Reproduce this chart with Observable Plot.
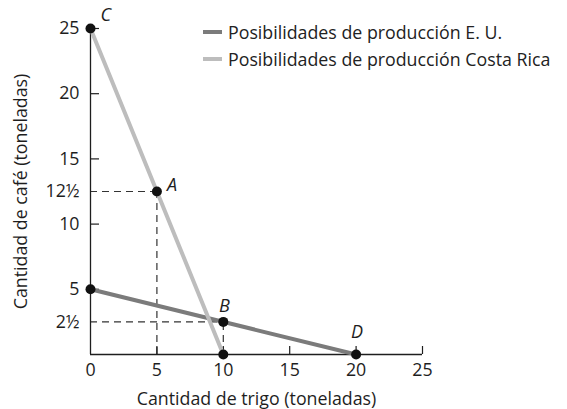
<!DOCTYPE html>
<html><head><meta charset="utf-8">
<script src="https://cdn.jsdelivr.net/npm/d3@7"></script>
<script src="https://cdn.jsdelivr.net/npm/@observablehq/plot@0.6"></script>
<style>
body{margin:0;background:#fff;}
#wrap{position:relative;width:567px;height:409px;font-family:"Open Sans",sans-serif;}
.legend{position:absolute;left:203px;top:18px;font-size:17.8px;color:#222;}
.item{display:flex;align-items:center;height:27px;white-space:nowrap;}
.swatch{width:19px;height:4px;margin-right:6px;}
</style></head><body><div id="wrap"></div>
<script>
const series = ["Posibilidades de producción E. U.", "Posibilidades de producción Costa Rica"];
const seriesColors = ["#7b7b7b", "#bdbdbd"];
const euTrigo = [0, 20];
const euCafe = [5, 0];
const crTrigo = [0, 10];
const crCafe = [25, 0];
const dotTrigo = [0, 5, 0, 10, 10, 20];
const dotCafe = [25, 12.5, 5, 2.5, 0, 0];
const pointLabels = ["C", "A", "B", "D"];
const pointTrigo = [0, 5, 10, 20];
const pointCafe = [25, 12.5, 2.5, 0];
const guideTrigo = [5, 10];
const guideCafe = [12.5, 2.5];
const xTicks = [5, 10, 15, 20, 25];
const xTickLabels = [0, 5, 10, 15, 20, 25];
const yTicks = [5, 10, 15, 20, 25];
const yTickLabels = [2.5, 5, 10, 12.5, 15, 20, 25];
const yTickText = {2.5: "2½", 12.5: "12½"};
const xTitle = "Cantidad de trigo (toneladas)";
const yTitle = "Cantidad de café (toneladas)";

const eu = euTrigo.map((t, i) => ({trigo: t, cafe: euCafe[i]}));
const cr = crTrigo.map((t, i) => ({trigo: t, cafe: crCafe[i]}));
const dots = dotTrigo.map((t, i) => ({trigo: t, cafe: dotCafe[i]}));
const pts = pointLabels.map((l, i) => ({label: l, trigo: pointTrigo[i], cafe: pointCafe[i]}));
const guides = guideTrigo.map((t, i) => ({trigo: t, cafe: guideCafe[i]}));
const labelOffsets = {C: [10, -13, "start"], A: [10, -6, "start"], B: [1, -16, "middle"], D: [1, -22, "middle"]};

const W = 567, H = 409, mL = 90, mR = 145, mT = 28, mB = 55;
const ink = "#1e1e1e";
const fs = 17.8;

const chart = Plot.plot({
  width: W, height: H,
  marginLeft: mL, marginRight: mR, marginTop: mT, marginBottom: mB,
  x: {domain: [0, 25]},
  y: {domain: [0, 25]},
  style: {fontFamily: "'Open Sans', sans-serif", fontSize: fs + "px", color: ink, background: "white"},
  marks: [
    Plot.ruleY(guides, {y: "cafe", x1: 0, x2: "trigo", stroke: "#333", strokeWidth: 1.2, strokeDasharray: "7,5"}),
    Plot.ruleX(guides, {x: "trigo", y1: 0, y2: "cafe", stroke: "#333", strokeWidth: 1.2, strokeDasharray: "7,5"}),
    Plot.ruleX([0], {stroke: ink, strokeWidth: 1.3}),
    Plot.ruleY([0], {stroke: ink, strokeWidth: 1.3}),
    Plot.tickX(xTicks, {x: d => d, insetTop: H - mT - mB - 8, stroke: ink, strokeWidth: 1.2}),
    Plot.tickY(yTicks, {y: d => d, insetRight: W - mL - mR - 9, stroke: ink, strokeWidth: 1.2}),
    Plot.axisX(xTickLabels, {tickSize: 0, tickPadding: 9, label: null, fontSize: fs}),
    Plot.axisY(yTickLabels, {tickSize: 0, tickPadding: 11, label: null, fontSize: fs, tickFormat: d => yTickText[d] ?? String(d)}),
    Plot.text([xTitle], {text: d => d, frameAnchor: "bottom", lineAnchor: "middle", textAnchor: "middle", dy: 45, fontSize: fs, fill: ink}),
    Plot.text([yTitle], {text: d => d, frameAnchor: "left", lineAnchor: "middle", textAnchor: "middle", dx: -69, rotate: -90, fontSize: fs, fill: ink}),
    Plot.line(eu, {x: "trigo", y: "cafe", stroke: seriesColors[0], strokeWidth: 4}),
    Plot.line(cr, {x: "trigo", y: "cafe", stroke: seriesColors[1], strokeWidth: 4}),
    Plot.dot(dots, {x: "trigo", y: "cafe", r: 5, fill: "#111", stroke: "none"}),
    ...pts.map(p => Plot.text([p], {x: "trigo", y: "cafe", text: "label", dx: labelOffsets[p.label][0], dy: labelOffsets[p.label][1], textAnchor: labelOffsets[p.label][2], fontStyle: "italic", fontSize: 18, fill: ink}))
  ]
});

const wrap = document.getElementById("wrap");
wrap.appendChild(chart);
const legend = document.createElement("div");
legend.className = "legend";
series.forEach((s, i) => {
  const item = document.createElement("div");
  item.className = "item";
  const sw = document.createElement("span");
  sw.className = "swatch";
  sw.style.background = seriesColors[i];
  const tx = document.createElement("span");
  tx.textContent = s;
  item.appendChild(sw); item.appendChild(tx);
  legend.appendChild(item);
});
wrap.appendChild(legend);
</script>
</body></html>
